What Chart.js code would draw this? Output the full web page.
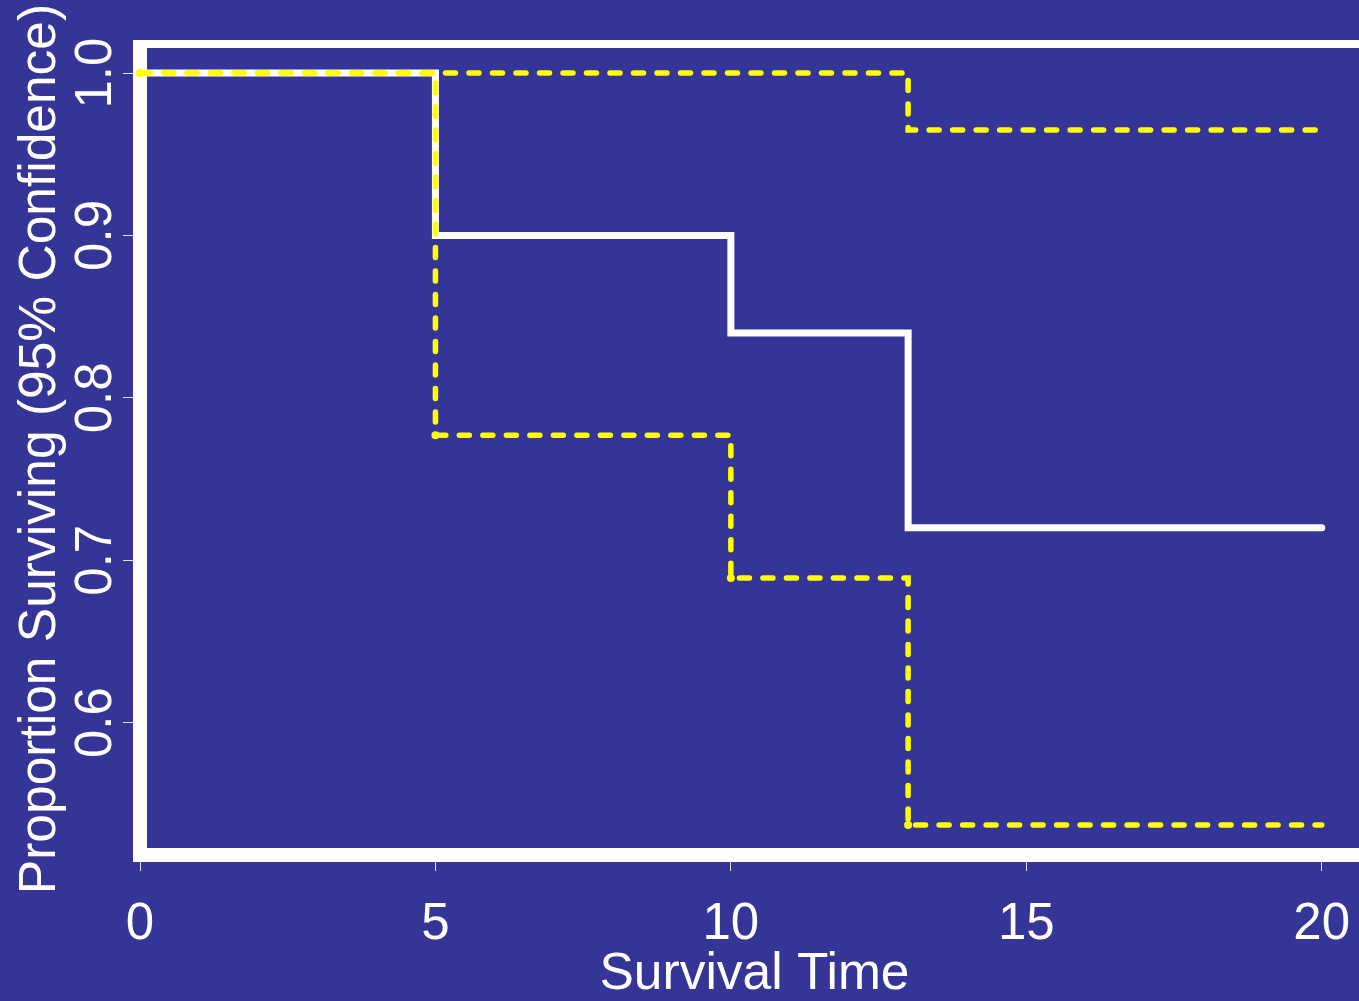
<!DOCTYPE html>
<html>
<head>
<meta charset="utf-8">
<title>Survival curve</title>
<script src="https://cdn.jsdelivr.net/npm/chart.js@4/dist/chart.umd.min.js"></script>
<style>
    html, body { margin: 0; padding: 0; background: #353597; overflow: hidden; }
    #wrap { width: 1359px; height: 1001px; overflow: hidden; }
</style>
</head>
<body>
<div id="wrap"><canvas id="survivalChart" width="1400" height="1001"></canvas></div>
<script>
// Kaplan-Meier estimate with 95% confidence band
const times = [0, 5, 10, 13, 20];
const survival = [1.0, 0.9, 0.84, 0.72, 0.72];
const upperCI = [1.0, 1.0, 1.0, 0.965, 0.965];
const lowerCI = [1.0, 0.777, 0.689, 0.537, 0.537];

const xTicks = [0, 5, 10, 15, 20];
const yTicks = [0.6, 0.7, 0.8, 0.9, 1.0];

const FONT = '"Liberation Sans", Arial, Helvetica, sans-serif';
const FONT_SIZE = 51;

function toPoints(values) {
    return times.map((t, i) => ({ x: t, y: values[i] }));
}

// white box round the plot region, drawn under the lines
const plotBox = {
    id: 'plotBox',
    beforeDatasetsDraw(chart) {
        const { ctx, chartArea } = chart;
        const { left, top, right, bottom } = chartArea;
        ctx.save();
        ctx.fillStyle = '#ffffff';
        ctx.fillRect(left - 7, top - 3, 14, bottom + 7 - (top - 3));
        ctx.fillRect(left - 7, top - 3, right - left + 14, 8);
        ctx.fillRect(left - 7, bottom - 7, right - left + 14, 14);
        ctx.fillRect(right - 7, top - 3, 14, bottom + 7 - (top - 3));
        ctx.restore();
    }
};

// y tick labels run along the axis, as in the original
const yLabels = {
    id: 'yLabels',
    afterDraw(chart) {
        const { ctx } = chart;
        const scale = chart.scales.y;
        ctx.save();
        ctx.fillStyle = '#ffffff';
        ctx.font = FONT_SIZE + 'px ' + FONT;
        ctx.textAlign = 'center';
        ctx.textBaseline = 'alphabetic';
        scale.ticks.forEach(t => {
            ctx.save();
            ctx.translate(111, scale.getPixelForValue(t.value));
            ctx.rotate(-Math.PI / 2);
            ctx.fillText(t.value.toFixed(1), 0, 0);
            ctx.restore();
        });
        ctx.restore();
    }
};

new Chart(document.getElementById('survivalChart'), {
    type: 'line',
    data: {
        datasets: [{
            label: 'Survival',
            data: toPoints(survival),
            borderColor: '#ffffff',
            borderWidth: 7,
            borderCapStyle: 'round',
            stepped: true,
            pointRadius: 0,
            clip: false,
            order: 2
        }, {
            label: 'Upper 95%',
            data: toPoints(upperCI),
            borderColor: '#ffff00',
            backgroundColor: '#ffff00',
            pointBackgroundColor: '#ffff00',
            borderWidth: 5.5,
            borderDash: [10, 13.5],
            borderCapStyle: 'round',
            stepped: true,
            pointRadius: [4, 0, 0, 0, 0],
            pointBorderWidth: 0,
            clip: false,
            order: 1
        }, {
            label: 'Lower 95%',
            data: toPoints(lowerCI),
            borderColor: '#ffff00',
            backgroundColor: '#ffff00',
            pointBackgroundColor: '#ffff00',
            borderWidth: 5.5,
            borderDash: [10, 13.5],
            borderCapStyle: 'round',
            stepped: true,
            pointRadius: [4, 4, 4, 4, 0],
            pointBorderWidth: 0,
            clip: false,
            order: 1
        }]
    },
    options: {
        responsive: false,
        animation: false,
        devicePixelRatio: 1,
        layout: {
            autoPadding: false,
            padding: { top: 43, right: 31, bottom: 0, left: 0 }
        },
        plugins: {
            legend: { display: false },
            tooltip: { enabled: false }
        },
        scales: {
            x: {
                type: 'linear',
                min: 0,
                max: 20.8,
                afterBuildTicks: scale => { scale.ticks = xTicks.map(v => ({ value: v })); },
                afterFit: scale => { scale.height = 146; },
                border: { display: false },
                grid: { drawOnChartArea: false, drawTicks: true, tickLength: 16, color: 'rgba(255,255,255,0.85)', lineWidth: 1 },
                ticks: { color: '#ffffff', font: { family: FONT, size: FONT_SIZE }, padding: 23, maxRotation: 0 },
                title: {
                    display: true,
                    text: 'Survival Time',
                    color: '#ffffff',
                    font: { family: FONT, size: FONT_SIZE + 0.5, lineHeight: 1 },
                    padding: { top: 0, bottom: 0 }
                }
            },
            y: {
                type: 'linear',
                min: 0.5185,
                max: 1.0185,
                afterBuildTicks: scale => { scale.ticks = yTicks.map(v => ({ value: v })); },
                afterFit: scale => { scale.width = 140; },
                border: { display: false },
                grid: { drawOnChartArea: false, drawTicks: true, tickLength: 17, color: 'rgba(255,255,255,0.85)', lineWidth: 1 },
                ticks: { display: false },
                title: {
                    display: true,
                    text: 'Proportion Surviving (95% Confidence)',
                    color: '#ffffff',
                    font: { family: FONT, size: FONT_SIZE + 0.5, lineHeight: 1 },
                    padding: { top: 15, bottom: 0 }
                }
            }
        }
    },
    plugins: [plotBox, yLabels]
});
</script>
</body>
</html>
